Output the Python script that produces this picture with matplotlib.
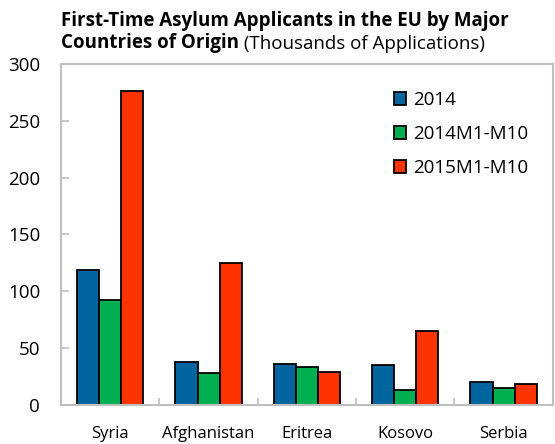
import numpy as np
import matplotlib.pyplot as plt

plt.rcParams['font.family'] = ['Open Sans', 'DejaVu Sans']

countries = ["Syria", "Afghanistan", "Eritrea", "Kosovo", "Serbia"]
series_names = ["2014", "2014M1-M10", "2015M1-M10"]
v2014 = [119, 38, 36, 35, 20]
v2014_m10 = [92, 28, 33, 13, 15]
v2015_m10 = [276, 125, 29, 65, 18]
colors = ["#00659E", "#00B050", "#FF3300"]

fig = plt.figure(figsize=(5.55, 4.44), dpi=100)
ax = fig.add_axes([0.110, 0.088, 0.886, 0.768])

x = np.arange(len(countries))
w = 0.225
for i, (vals, name) in enumerate(zip([v2014, v2014_m10, v2015_m10], series_names)):
    ax.bar(x + (i - 1) * w, vals, w, color=colors[i], edgecolor="black",
           linewidth=1.3, label=name)

ax.set_xlim(-0.5, len(countries) - 0.5)
ax.set_ylim(0, 300)
ax.set_yticks(range(0, 301, 50))
ax.set_xticks(x)
ax.set_xticklabels(countries, fontsize=12)
ax.set_xticks(np.arange(0.5, len(countries) - 0.5), minor=True)
ax.tick_params(axis="x", which="major", length=0, pad=15)
ax.tick_params(axis="x", which="minor", direction="in", length=5, color="#bfbfbf", width=1.2)
ax.tick_params(axis="y", direction="in", length=6, color="#bfbfbf", width=1.2, labelsize=13.5, pad=15)
for s in ax.spines.values():
    s.set_color("#bfbfbf")
    s.set_linewidth(1.5)

ax.legend(loc="upper left", bbox_to_anchor=(0.642, 0.97), frameon=False,
          fontsize=13.5, handlelength=0.65, handleheight=0.65,
          handletextpad=0.4, labelspacing=0.85)

fig.text(0.110, 0.941, "First-Time Asylum Applicants in the EU by Major",
         fontsize=13.5, fontweight="bold", va="baseline")
t2 = fig.text(0.110, 0.892, "Countries of Origin", fontsize=13.5,
              fontweight="bold", va="baseline")
ax.annotate(" (Thousands of Applications)", xy=(1, 0), xycoords=t2,
            va="bottom", ha="left", fontsize=13.5)

fig.savefig("out.png", dpi=100)
